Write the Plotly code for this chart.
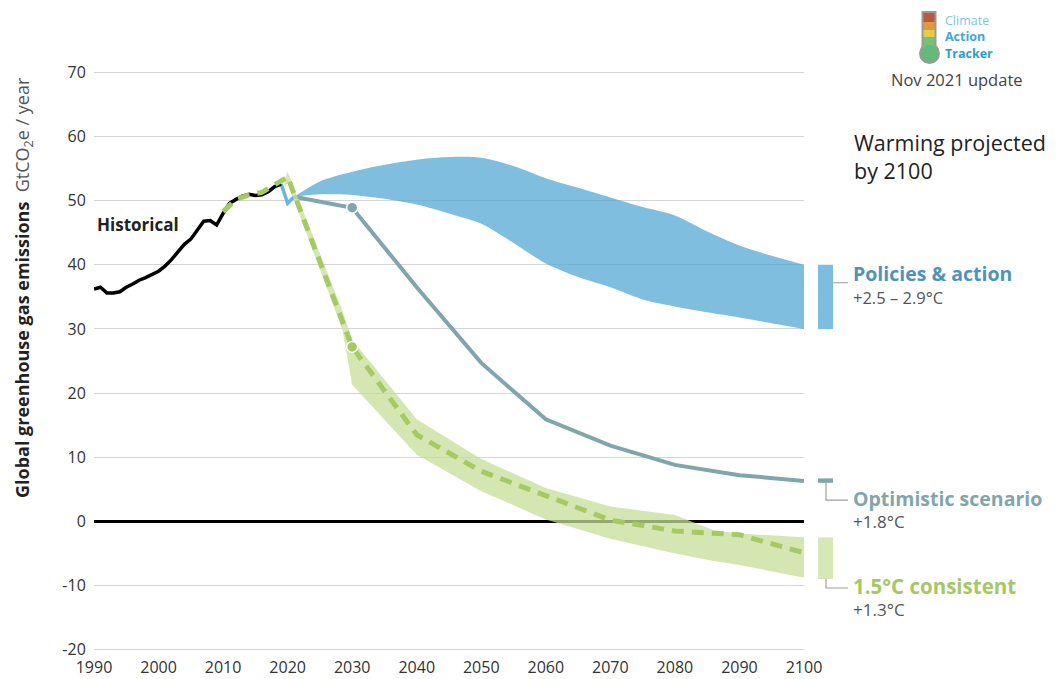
import plotly.graph_objects as go

# ---------------- data ----------------
hist_years = list(range(1990, 2020))
hist_vals = [36.2, 36.5, 35.6, 35.6, 35.8, 36.5, 37.0, 37.6, 38.0, 38.5,
             39.0, 39.8, 40.8, 42.0, 43.2, 44.0, 45.3, 46.8, 46.9, 46.2,
             48.0, 49.6, 50.2, 50.7, 51.0, 50.8, 50.9, 51.4, 52.2, 52.6]

dip_years = [2019, 2020, 2021]
dip_vals = [52.6, 49.6, 50.6]

pol_years = [2021, 2025, 2030, 2035, 2040, 2045, 2050, 2055, 2060, 2065, 2070, 2075, 2080, 2085, 2090, 2095, 2100]
pol_upper = [50.6, 53.0, 54.5, 55.6, 56.4, 56.8, 56.7, 55.4, 53.5, 52.0, 50.5, 49.0, 47.7, 45.2, 43.0, 41.4, 40.0]
pol_lower = [50.6, 51.0, 50.9, 50.3, 49.4, 48.0, 46.4, 43.4, 40.2, 38.1, 36.5, 34.6, 33.5, 32.6, 31.8, 30.9, 30.0]

opt_years = [2021, 2030, 2040, 2050, 2060, 2070, 2080, 2090, 2100]
opt_vals = [50.6, 48.9, 36.5, 24.7, 15.9, 11.8, 8.8, 7.2, 6.3]

c15_band_years = [2019.5, 2020, 2028.5, 2030, 2040, 2050, 2060, 2070, 2080, 2086, 2090, 2100]
c15_upper = [53.2, 54.5, 32.8, 28.3, 15.9, 9.7, 5.2, 2.3, 1.0, -1.4, -1.9, -2.5]
c15_lower = [52.0, 52.8, 29.8, 21.3, 10.4, 4.7, 0.3, -2.7, -5.0, -6.2, -6.8, -8.8]

c15_years = [2010, 2012, 2014, 2016, 2018, 2020, 2030, 2040, 2050, 2060, 2070, 2080, 2090, 2100]
c15_vals = [48.3, 50.2, 50.9, 51.3, 52.5, 53.7, 27.2, 13.5, 7.8, 3.9, 0.2, -1.5, -2.1, -4.9]

x_ticks = list(range(1990, 2101, 10))
y_ticks = list(range(-20, 71, 10))
y_ticktext = [str(v) for v in y_ticks]

# ranges of the right-hand warming bars (GtCO2e)
pol_bar = [30.0, 40.0]
opt_bar = [6.0, 6.7]
c15_bar = [-9.0, -2.5]

# ---------------- colours ----------------
BLUE_FILL = "rgba(88,170,214,0.76)"
BLUE_TEXT = "#4f93bd"
OPT_COL = "#80a6ab"
GREEN_FILL = "rgba(198,223,152,0.75)"
GREEN_LINE = "#a7c963"
GREEN_TEXT = "#a6c766"
GRID = "#d4d4d4"

# ---------------- layout geometry ----------------
OFF = 8  # default page margin of the html body
W, H = 1058 - OFF, 679 - OFF
ML = 94 - OFF
MR = W - (804 - OFF)
MT = 66 - OFF
MB = H - (656 - OFF)
PW = W - ML - MR
PH = H - MT - MB


def px_x(X):
    return (X - OFF - ML) / PW


def px_y(Y):
    return (H - MB - (Y - OFF)) / PH


FONT = "Open Sans"

fig = go.Figure()

# Policies & action band
fig.add_trace(go.Scatter(x=pol_years, y=pol_lower, mode="lines",
                         line=dict(width=0, shape="spline", smoothing=0.8, color=BLUE_FILL),
                         hoverinfo="skip", showlegend=False))
fig.add_trace(go.Scatter(x=pol_years, y=pol_upper, mode="lines", fill="tonexty",
                         fillcolor=BLUE_FILL,
                         line=dict(width=0, shape="spline", smoothing=0.8, color=BLUE_FILL),
                         hoverinfo="skip", showlegend=False))
fig.add_trace(go.Scatter(x=dip_years, y=dip_vals, mode="lines",
                         line=dict(width=3.5, color="#6fb3d9"),
                         hoverinfo="skip", showlegend=False))

# Optimistic scenario
fig.add_trace(go.Scatter(x=opt_years, y=opt_vals, mode="lines",
                         line=dict(width=4, color=OPT_COL),
                         hoverinfo="skip", showlegend=False))
fig.add_trace(go.Scatter(x=[opt_years[1]], y=[opt_vals[1]], mode="markers",
                         marker=dict(size=11, color=OPT_COL, line=dict(width=1.5, color="white")),
                         hoverinfo="skip", showlegend=False))

# 1.5C band
fig.add_trace(go.Scatter(x=c15_band_years, y=c15_lower, mode="lines",
                         line=dict(width=0, color=GREEN_FILL),
                         hoverinfo="skip", showlegend=False))
fig.add_trace(go.Scatter(x=c15_band_years, y=c15_upper, mode="lines", fill="tonexty",
                         fillcolor=GREEN_FILL, line=dict(width=0, color=GREEN_FILL),
                         hoverinfo="skip", showlegend=False))

# Historical
fig.add_trace(go.Scatter(x=hist_years, y=hist_vals, mode="lines",
                         line=dict(width=3.5, color="black"),
                         hoverinfo="skip", showlegend=False))

# 1.5C pathway (dashed)
fig.add_trace(go.Scatter(x=c15_years, y=c15_vals, mode="lines",
                         line=dict(width=5, color=GREEN_LINE, dash="12px,8px"),
                         hoverinfo="skip", showlegend=False))
fig.add_trace(go.Scatter(x=[c15_years[6]], y=[c15_vals[6]], mode="markers",
                         marker=dict(size=11, color=GREEN_LINE, line=dict(width=1.5, color="white")),
                         hoverinfo="skip", showlegend=False))

shapes = []
# right-hand bars
bx0, bx1 = px_x(818), px_x(833)
cx = px_x(826)
lx = px_x(848)
shapes.append(dict(type="rect", xref="paper", yref="y", x0=bx0, x1=bx1, y0=pol_bar[0], y1=pol_bar[1],
                   fillcolor="#7cbde0", line=dict(width=0)))
shapes.append(dict(type="rect", xref="paper", yref="y", x0=bx0, x1=bx1, y0=opt_bar[0], y1=opt_bar[1],
                   fillcolor=OPT_COL, line=dict(width=0)))
shapes.append(dict(type="rect", xref="paper", yref="y", x0=bx0, x1=bx1, y0=c15_bar[0], y1=c15_bar[1],
                   fillcolor="#d7e8b8", line=dict(width=0)))
# connectors
shapes.append(dict(type="line", xref="paper", yref="y", x0=bx1, x1=lx, y0=37.2, y1=37.2,
                   line=dict(width=1, color="#9a9a9a")))
shapes.append(dict(type="path", xref="paper", yref="y",
                   path=f"M {cx},{opt_bar[0]} L {cx},3.3 L {lx},3.3",
                   line=dict(width=1.2, color="#a0a0a0")))
shapes.append(dict(type="path", xref="paper", yref="y",
                   path=f"M {cx},{c15_bar[0]} L {cx},-10.4 L {lx},-10.4",
                   line=dict(width=1.2, color="#a0a0a0")))

# thermometer logo
tx0, tx1 = px_x(923.5), px_x(934.5)
seg = [(13, 22, "#b85a3c"), (22, 30, "#e09a3c"), (30, 37, "#e0cf45"), (37, 50, "#74c27a")]
shapes.append(dict(type="rect", xref="paper", yref="paper", x0=px_x(921.5), x1=px_x(936.5),
                   y0=px_y(52), y1=px_y(11), fillcolor="#9a9a9a", line=dict(width=0)))
shapes.append(dict(type="circle", xref="paper", yref="paper", x0=px_x(919), x1=px_x(940),
                   y0=px_y(64), y1=px_y(43), fillcolor="#9a9a9a", line=dict(width=0)))
for y0, y1, col in seg:
    shapes.append(dict(type="rect", xref="paper", yref="paper", x0=tx0, x1=tx1,
                       y0=px_y(y1), y1=px_y(y0), fillcolor=col, line=dict(width=0)))
shapes.append(dict(type="circle", xref="paper", yref="paper", x0=px_x(921), x1=px_x(938),
                   y0=px_y(62), y1=px_y(45), fillcolor="#62bb7d", line=dict(width=0)))

annotations = []


def ann(text, X, Y, size, color, xanchor="left", **kw):
    annotations.append(dict(text=text, xref="paper", yref="paper", x=px_x(X), y=px_y(Y),
                            xanchor=xanchor, yanchor="middle", showarrow=False,
                            font=dict(family=FONT, size=size, color=color), **kw))


ann("<span style='color:#7cc6e6'>Climate</span><br>"
    "<b><span style='color:#3ea8d8'>Action</span></b><br>"
    "<b><span style='color:#2b9dd4'>Tracker</span></b>",
    943, 37, 12.5, "#3ea8d8", align="left")
ann("Nov 2021 update", 957, 80, 16.5, "#444444", xanchor="center")
ann("Warming projected<br>by 2100", 852, 156, 21.5, "#222222", align="left")
ann("<b>Policies & action</b>", 851, 273, 19.5, BLUE_TEXT)
ann("+2.5 – 2.9°C", 851, 297, 16.5, "#555555")
ann("<b>Optimistic scenario</b>", 851, 498, 19.5, OPT_COL)
ann("+1.8°C", 851, 521, 17, "#555555")
ann("<b>1.5°C consistent</b>", 851, 586, 20.5, GREEN_TEXT)
ann("+1.3°C", 851, 609, 17, "#555555")
ann("<b>Historical</b>", 95, 225, 17, "#222222")
ann("<b>Global greenhouse gas emissions</b>  <span style='color:#555555'>GtCO<sub>2</sub>e / year</span>",
    23, 288, 18, "#222222", xanchor="center", textangle=-90)

fig.update_layout(
    width=W, height=H,
    margin=dict(l=ML, r=MR, t=MT, b=MB, pad=0),
    paper_bgcolor="white", plot_bgcolor="white",
    showlegend=False,
    shapes=shapes, annotations=annotations,
    font=dict(family=FONT, color="#333333"),
    xaxis=dict(range=[1990, 2100], tickvals=x_ticks, showgrid=False, zeroline=False,
               showline=False, ticks="", tickfont=dict(size=16, color="#333333"),
               automargin=False, fixedrange=True),
    yaxis=dict(range=[-21, 71], tickvals=y_ticks, ticktext=y_ticktext,
               showgrid=True, gridcolor=GRID, gridwidth=1.2,
               zeroline=True, zerolinecolor="black", zerolinewidth=2.5,
               showline=False, ticks="outside", ticklen=4, tickcolor="rgba(0,0,0,0)",
               tickfont=dict(size=16, color="#333333"), automargin=False, fixedrange=True),
)

fig.write_html("out.html")
